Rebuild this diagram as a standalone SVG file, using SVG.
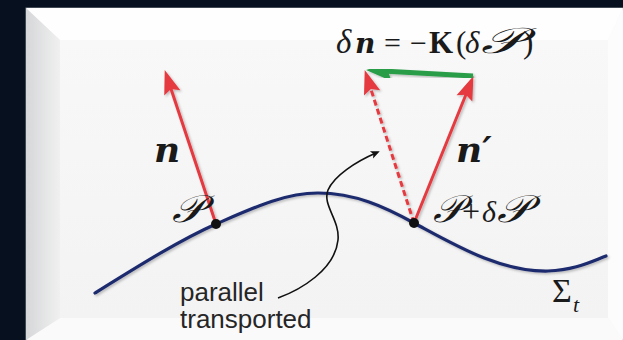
<svg xmlns="http://www.w3.org/2000/svg" width="623" height="340" viewBox="0 0 623 340">
<style>
.math{font-family:"Liberation Serif","DejaVu Serif",serif;fill:#1a1a1a}
.vec{font-family:"DejaVu Serif","Liberation Serif",serif;font-weight:bold;font-style:italic;fill:#1a1a1a}
.it{font-style:italic}
.scr{font-family:"DejaVu Serif","Liberation Serif",serif;font-style:italic;fill:#1a1a1a}
.note{font-family:"Liberation Sans",Arial,sans-serif;font-size:26px;fill:#262626}
.red{stroke:#e53a40;stroke-width:3;fill:none}
</style>
<defs>
<linearGradient id="lb" x1="0" y1="0" x2="1" y2="0">
<stop offset="0" stop-color="#d6d7d9"/><stop offset="1" stop-color="#f0f0f0"/>
</linearGradient>
<linearGradient id="face" x1="0" y1="0" x2="0" y2="1">
<stop offset="0" stop-color="#f8f8f8"/><stop offset="1" stop-color="#f3f3f3"/>
</linearGradient>
<filter id="sh" x="-20%" y="-20%" width="140%" height="140%">
<feDropShadow dx="1.5" dy="1.5" stdDeviation="1.2" flood-color="#000" flood-opacity="0.25"/>
</filter>
<marker id="ar" markerUnits="userSpaceOnUse" viewBox="-20 -12 40 24" markerWidth="40" markerHeight="24" refX="0" refY="0" orient="auto" overflow="visible">
<path d="M11,0 L-13,-8.5 L-9,0 L-13,8.5 Z" fill="#e53a40"/>
</marker>
<marker id="ag" markerUnits="userSpaceOnUse" viewBox="-20 -12 40 24" markerWidth="40" markerHeight="24" refX="0" refY="0" orient="auto" overflow="visible">
<path d="M12,0 L-14,-9.5 L-10,0 L-14,9.5 Z" fill="#2a9d48"/>
</marker>
<marker id="ab" markerUnits="userSpaceOnUse" viewBox="-10 -6 20 12" markerWidth="20" markerHeight="12" refX="0" refY="0" orient="auto" overflow="visible">
<path d="M3,0 L-6,-4 L-4,0 L-6,4 Z" fill="#111"/>
</marker>
</defs>
<rect x="0" y="0" width="623" height="340" fill="#06101f"/>
<g id="panel">
<rect x="26" y="8" width="597" height="332" fill="url(#face)" stroke="#7d828c" stroke-width="1"/>
<polygon points="26,8 623,8 608,40 60,40" fill="#fefefe"/>
<polygon points="623,8 623,340 608,318 608,40" fill="#fcfcfc"/>
<polygon points="26,340 623,340 608,318 60,318" fill="#fafafa"/>
<polygon points="26,8 60,40 60,318 26,340" fill="url(#lb)"/>
<rect x="60" y="40" width="548" height="278" fill="url(#face)"/>
</g>
<g id="surface">
<path d="M95,293 C140,265 180,240 216,224 C255,207 285,193 318,193 C355,193 385,207 414,223 C455,245 500,272 548,271 C575,270 590,262 606,256" fill="none" stroke="#1e2a6e" stroke-width="3.2" stroke-linecap="round" filter="url(#sh)"/>
</g>
<g id="connectors">
<line class="red" x1="216" y1="224" x2="168.2" y2="80.5" marker-end="url(#ar)" filter="url(#sh)"/>
<line class="red" x1="414" y1="223" x2="368.1" y2="80.5" stroke-dasharray="6 3.5" marker-end="url(#ar)" filter="url(#sh)"/>
<line class="red" x1="414" y1="223" x2="469.3" y2="86.3" marker-end="url(#ar)" filter="url(#sh)"/>
<line x1="473" y1="76" x2="378" y2="70.7" stroke="#2a9d48" stroke-width="5" marker-end="url(#ag)" filter="url(#sh)"/>
<path d="M278,298 C300,290 335,270 338,240 C340,220 322,205 328,190 C334,176 355,162 377,152.5" fill="none" stroke="#111" stroke-width="1.6" marker-end="url(#ab)"/>
</g>
<g id="point-P">
<circle cx="216" cy="224" r="5" fill="#111"/>
<text class="scr" x="172" y="222" font-size="38" textLength="31" lengthAdjust="spacingAndGlyphs">𝒫</text>
</g>
<g id="point-PdP">
<circle cx="414" cy="223" r="5" fill="#111"/>
<text class="scr" x="433" y="222" font-size="38" textLength="29" lengthAdjust="spacingAndGlyphs">𝒫</text>
<text class="math" x="462" y="222" font-size="32">+</text>
<text class="math it" x="482" y="222" font-size="30">δ</text>
<text class="scr" x="497" y="222" font-size="38" textLength="32" lengthAdjust="spacingAndGlyphs">𝒫</text>
</g>
<g id="label-n">
<text class="vec" x="154" y="162" font-size="36">n</text>
</g>
<g id="label-nprime">
<text class="vec" x="456" y="162" font-size="36">n′</text>
</g>
<g id="formula">
<text class="math it" x="336" y="53" font-size="33">δ</text>
<text class="vec" x="355" y="53" font-size="28">n</text>
<text class="math" x="384" y="53" font-size="30">=</text>
<text class="math" x="410" y="53" font-size="30">−</text>
<text class="math" x="429" y="53" font-size="31" font-weight="bold">K</text>
<text class="math" x="456" y="53" font-size="31">(</text>
<text class="math it" x="465" y="53" font-size="31">δ</text>
<text class="scr" x="481" y="53" font-size="36" textLength="41" lengthAdjust="spacingAndGlyphs">𝒫</text>
<text class="math" x="523" y="53" font-size="31">)</text>
</g>
<g id="label-sigma">
<text class="math" x="552" y="302" font-size="34">Σ</text>
<text class="math it" x="573" y="312" font-size="22">t</text>
</g>
<g id="label-parallel">
<text class="note" x="180" y="301">parallel</text>
<text class="note" x="180" y="328">transported</text>
</g>
</svg>
